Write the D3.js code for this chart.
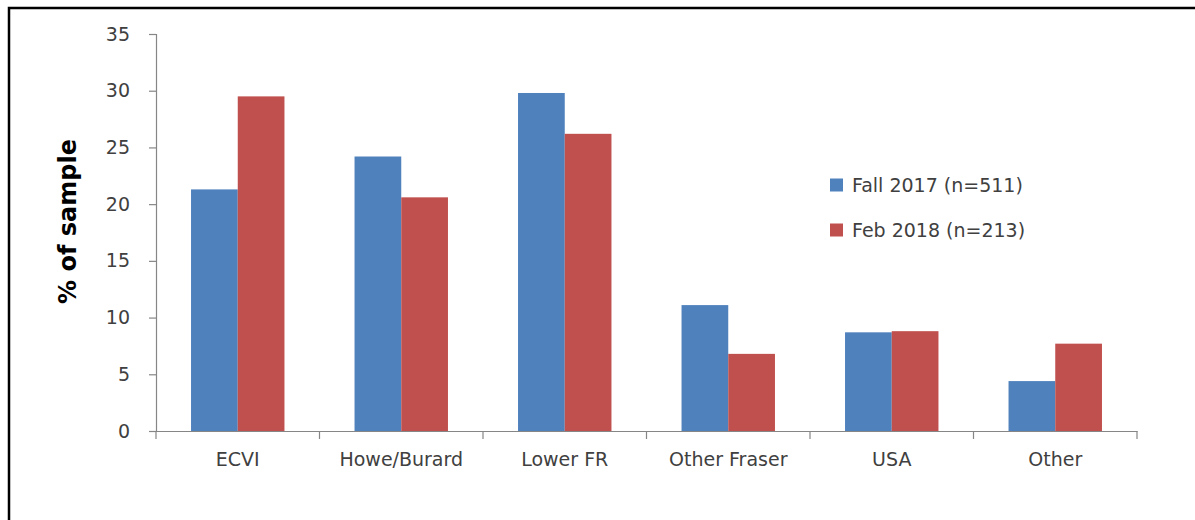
<!DOCTYPE html>
<html>
<head>
<meta charset="utf-8">
<script src="https://cdn.jsdelivr.net/npm/d3@7"></script>
<style>
html,body{margin:0;padding:0;background:#fff;}
svg{display:block;}
</style>
</head>
<body>
<script>
const categories = ["ECVI", "Howe/Burard", "Lower FR", "Other Fraser", "USA", "Other"];
const seriesNames = ["Fall 2017 (n=511)", "Feb 2018 (n=213)"];
const fall2017 = [21.3, 24.2, 29.8, 11.1, 8.7, 4.4];
const feb2018 = [29.5, 20.6, 26.2, 6.8, 8.8, 7.7];
const yTicks = [0, 5, 10, 15, 20, 25, 30, 35];
const colors = ["#4f81bd", "#c0504d"];
const series = [fall2017, feb2018];

const W = 1195, H = 520;
const font = "'DejaVu Sans', sans-serif";
const svg = d3.select("body").append("svg").attr("width", W).attr("height", H);

// outer frame (cropped on right and bottom)
svg.append("rect").attr("x", 9).attr("y", 8).attr("width", 1200).attr("height", 520)
  .attr("fill", "none").attr("stroke", "#000").attr("stroke-width", 2.5);

const x0 = 156, x1 = 1137, yTop = 34, yBot = 431;
const x = d3.scaleBand().domain(categories).range([x0, x1]).paddingInner(0).paddingOuter(0);
const y = d3.scaleLinear().domain([0, 35]).range([yBot, yTop]);
const bw = x.bandwidth() / 3.5;
const sub = d3.scaleBand().domain([0, 1]).range([0, 2 * bw]);

// bars
series.forEach((vals, si) => {
  svg.append("g").selectAll("rect").data(categories).join("rect")
    .attr("x", (c) => x(c) + x.bandwidth() / 2 - bw + sub(si))
    .attr("y", (c, i) => y(vals[i]))
    .attr("width", bw)
    .attr("height", (c, i) => yBot - y(vals[i]))
    .attr("fill", colors[si]);
});

// y axis
const yAxis = d3.axisLeft(y).tickValues(yTicks).tickSize(7).tickPadding(19);
const gy = svg.append("g").attr("transform", `translate(${x0},0)`).call(yAxis);
gy.select(".domain").attr("stroke", "#868686").attr("stroke-width", 1.2);
gy.selectAll(".tick line").attr("stroke", "#868686").attr("stroke-width", 1.2);
gy.selectAll(".tick text").attr("font-family", font).attr("font-size", 19).attr("fill", "#404040");

// x axis
const gx = svg.append("g").attr("transform", `translate(0,${yBot})`)
  .call(d3.axisBottom(x).tickSize(0).tickPadding(22));
gx.select(".domain").attr("stroke", "#868686").attr("stroke-width", 1.2);
gx.selectAll(".tick text").attr("font-family", font).attr("font-size", 19).attr("fill", "#404040");
// category boundary ticks
const bounds = categories.map(c => x(c)).concat([x1]);
svg.append("g").selectAll("line").data(bounds).join("line")
  .attr("x1", d => d).attr("x2", d => d).attr("y1", yBot).attr("y2", yBot + 8)
  .attr("stroke", "#868686").attr("stroke-width", 1.2);

// y title
svg.append("text").attr("transform", `translate(76,${(yTop + yBot) / 2 - 11}) rotate(-90)`)
  .attr("text-anchor", "middle").attr("font-family", font).attr("font-weight", "bold")
  .attr("font-size", 24).attr("fill", "#000").text("% of sample");

// legend
const lg = svg.append("g");
seriesNames.forEach((n, i) => {
  const cy = 185 + i * 45;
  lg.append("rect").attr("x", 830).attr("y", cy - 6.5).attr("width", 13).attr("height", 13).attr("fill", colors[i]);
  lg.append("text").attr("x", 852).attr("y", cy).attr("dy", "0.35em")
    .attr("font-family", font).attr("font-size", 19).attr("fill", "#404040").text(n);
});
</script>
</body>
</html>
